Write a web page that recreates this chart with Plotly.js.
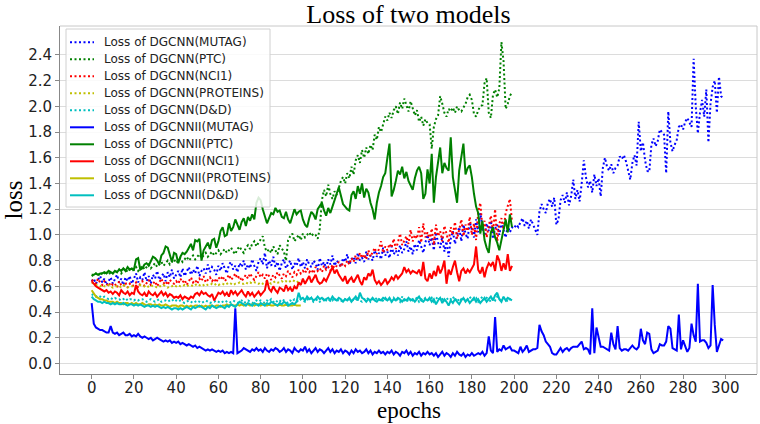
<!DOCTYPE html>
<html>
<head>
<meta charset="utf-8">
<script src="https://cdn.plot.ly/plotly-3.0.1.min.js"></script>
<style>html,body{margin:0;padding:0;background:#fff;}#chart{width:760px;height:424px;}</style>
</head>
<body>
<div id="chart"></div>
<script>
const title = "Loss of two models";
const xLabel = "epochs";
const yLabel = "loss";
const xTicks = [0,20,40,60,80,100,120,140,160,180,200,220,240,260,280,300];
const yTicks = [0.0,0.2,0.4,0.6,0.8,1.0,1.2,1.4,1.6,1.8,2.0,2.2,2.4];

const dgcnnMutag = [
0.64,0.66,0.62,0.65,0.68,0.63,0.66,0.61,0.64,0.67,0.62,0.65,0.69,0.63,0.66,0.61,0.67,0.64,0.68,0.62,
0.66,0.70,0.63,0.67,0.65,0.71,0.64,0.68,0.62,0.69,0.66,0.72,0.65,0.68,0.70,0.64,0.71,0.67,0.73,0.66,
0.69,0.72,0.67,0.74,0.68,0.71,0.75,0.69,0.73,0.70,0.76,0.68,0.72,0.74,0.70,0.77,0.71,0.75,0.73,0.69,
0.76,0.72,0.78,0.74,0.70,0.77,0.79,0.73,0.76,0.71,0.78,0.75,0.80,0.73,0.77,0.74,0.81,0.76,0.72,0.79,
0.82,0.77,0.86,0.74,0.80,0.76,0.83,0.75,0.79,0.72,0.78,0.81,0.74,0.77,0.80,0.73,0.78,0.76,0.82,0.75,
0.79,0.74,0.81,0.77,0.75,0.80,0.78,0.73,0.82,0.76,0.79,0.74,0.81,0.77,0.84,0.76,0.80,0.78,0.75,0.82,
0.79,0.85,0.77,0.81,0.83,0.78,0.86,0.80,0.82,0.79,0.87,0.81,0.84,0.80,0.88,0.83,0.86,0.81,0.90,0.84,
0.87,0.82,0.91,0.85,0.88,0.84,0.92,0.86,0.89,0.95,0.87,0.91,0.85,0.93,0.88,0.96,0.90,0.86,0.94,1.00,
0.92,0.98,0.88,1.02,0.94,0.90,0.99,0.87,0.95,0.83,0.97,1.03,0.93,0.99,1.06,0.95,1.08,1.01,0.97,1.10,
1.04,0.98,1.12,1.02,1.17,1.06,0.99,1.09,1.03,1.11,0.97,1.05,1.08,1.00,1.10,1.04,0.98,1.07,1.02,1.06,
1.05,1.08,1.06,1.10,1.13,1.07,1.11,1.05,1.12,1.08,1.04,1.00,1.18,1.24,1.20,1.17,1.25,1.28,1.22,1.29,
1.08,1.12,1.27,1.31,1.25,1.33,1.23,1.30,1.43,1.28,1.35,1.26,1.40,1.58,1.45,1.37,1.42,1.33,1.47,1.38,
1.44,1.30,1.52,1.60,1.53,1.50,1.55,1.48,1.52,1.54,1.61,1.59,1.62,1.57,1.50,1.43,1.56,1.62,1.54,1.88,
1.65,1.72,1.58,1.50,1.49,1.70,1.75,1.69,1.73,1.82,1.80,1.78,1.48,1.96,1.72,1.65,1.70,1.74,1.84,1.86,
1.82,1.88,1.91,1.87,1.84,2.37,2.00,1.79,1.95,2.05,1.92,2.13,1.72,2.02,2.15,2.20,1.95,2.23,2.08,2.06];

const dgcnnPtc = [
0.68,0.69,0.70,0.68,0.71,0.69,0.70,0.72,0.69,0.71,0.70,0.72,0.71,0.73,0.70,0.72,0.74,0.71,0.73,0.72,
0.73,0.75,0.72,0.74,0.76,0.73,0.75,0.77,0.74,0.76,0.78,0.75,0.77,0.79,0.76,0.78,0.80,0.77,0.79,0.81,
0.78,0.80,0.82,0.79,0.81,0.83,0.80,0.82,0.84,0.81,0.83,0.85,0.82,0.84,0.86,0.83,0.85,0.87,0.84,0.86,
0.88,0.85,0.87,0.89,0.86,0.88,0.90,0.87,0.85,0.89,0.91,0.88,0.86,0.90,0.92,0.89,0.93,0.95,0.91,0.94,
0.97,0.99,0.90,0.87,0.89,0.86,0.91,0.88,0.85,0.92,0.89,0.87,0.80,0.96,0.99,1.01,0.95,0.98,1.00,0.96,
1.01,0.98,1.00,1.02,0.99,1.01,1.00,0.97,1.05,1.27,1.35,1.30,1.39,1.32,1.28,1.34,1.31,1.36,1.42,1.45,
1.40,1.48,1.44,1.53,1.47,1.58,1.62,1.56,1.66,1.60,1.68,1.63,1.70,1.66,1.78,1.74,1.84,1.80,1.87,1.92,
1.89,1.95,1.91,1.97,2.00,1.94,2.03,1.98,2.06,2.01,1.96,2.04,1.99,1.93,1.97,1.88,1.92,1.85,1.90,1.87,
1.86,1.67,1.84,1.90,1.93,2.08,2.02,1.95,1.92,1.98,1.96,1.99,1.95,2.00,1.97,1.96,1.99,2.02,2.07,2.09,
2.05,1.94,1.92,1.97,2.00,2.01,2.18,2.22,1.95,1.91,2.09,2.13,2.07,2.14,2.50,2.35,1.98,2.02,2.08,2.11];

const dgcnnNci1 = [
0.65,0.64,0.62,0.66,0.63,0.61,0.64,0.62,0.60,0.63,0.61,0.62,0.59,0.64,0.61,0.60,0.63,0.59,0.62,0.60,
0.61,0.63,0.59,0.62,0.64,0.60,0.63,0.65,0.61,0.62,0.64,0.60,0.63,0.66,0.62,0.64,0.61,0.65,0.63,0.62,
0.64,0.62,0.66,0.63,0.65,0.61,0.64,0.67,0.63,0.65,0.62,0.66,0.64,0.68,0.63,0.65,0.67,0.64,0.66,0.63,
0.67,0.65,0.68,0.64,0.66,0.69,0.65,0.67,0.70,0.66,0.68,0.64,0.67,0.69,0.66,0.70,0.67,0.65,0.68,0.71,
0.67,0.69,0.66,0.70,0.68,0.65,0.69,0.67,0.71,0.68,0.66,0.70,0.68,0.72,0.69,0.67,0.71,0.69,0.73,0.70,
0.72,0.70,0.74,0.71,0.73,0.70,0.75,0.72,0.74,0.71,0.76,0.73,0.75,0.72,0.77,0.74,0.76,0.79,0.75,0.78,
0.76,0.80,0.77,0.82,0.79,0.84,0.80,0.86,0.82,0.85,0.81,0.88,0.83,0.87,0.90,0.85,0.89,0.95,0.86,0.91,
0.88,0.93,0.90,0.97,0.89,0.94,1.01,0.92,0.96,0.99,0.93,1.04,0.95,1.00,0.97,1.06,0.94,1.09,0.98,1.02,
0.96,1.05,0.92,1.08,0.99,1.03,0.95,1.07,1.01,0.94,1.06,1.00,1.10,0.97,1.04,1.12,0.99,1.08,1.03,1.14,
1.00,1.09,0.96,1.18,1.25,1.05,1.11,0.98,1.07,1.15,1.02,1.20,0.95,1.09,1.13,1.04,1.17,1.22,1.28,1.10];

const dgcnnProteins = [
0.63,0.62,0.61,0.61,0.60,0.61,0.60,0.60,0.61,0.60,0.59,0.60,0.60,0.59,0.60,0.61,0.60,0.59,0.60,0.60,
0.60,0.59,0.60,0.61,0.60,0.60,0.59,0.60,0.61,0.60,0.60,0.59,0.60,0.60,0.61,0.60,0.59,0.60,0.60,0.61,
0.60,0.61,0.60,0.60,0.61,0.60,0.61,0.61,0.60,0.61,0.62,0.61,0.60,0.61,0.62,0.61,0.61,0.62,0.61,0.62,
0.61,0.62,0.62,0.61,0.62,0.63,0.62,0.61,0.62,0.62,0.63,0.62,0.62,0.63,0.62,0.63,0.62,0.63,0.63,0.62,
0.63,0.62,0.63,0.64,0.63,0.62,0.63,0.64,0.63,0.63,0.64,0.63,0.64,0.63,0.64,0.65,0.64,0.63,0.64,0.65];

const dgcnnDD = [
0.54,0.53,0.52,0.53,0.52,0.51,0.52,0.51,0.50,0.51,0.50,0.51,0.50,0.50,0.49,0.50,0.51,0.49,0.50,0.50,
0.49,0.50,0.49,0.50,0.50,0.49,0.48,0.49,0.50,0.49,0.48,0.49,0.50,0.48,0.49,0.49,0.48,0.49,0.50,0.48,
0.49,0.48,0.49,0.48,0.47,0.48,0.49,0.48,0.47,0.48,0.49,0.48,0.47,0.48,0.49,0.48,0.47,0.48,0.48,0.49,
0.48,0.47,0.48,0.49,0.48,0.47,0.48,0.49,0.48,0.47,0.48,0.49,0.47,0.48,0.49,0.48,0.47,0.48,0.49,0.48,
0.49,0.48,0.47,0.49,0.48,0.50,0.48,0.47,0.49,0.48,0.50,0.49,0.48,0.47,0.49,0.48,0.50,0.49,0.48,0.50,
0.49,0.48,0.50,0.49,0.51,0.48,0.49,0.50,0.48,0.49,0.51,0.49,0.48,0.50,0.49,0.51,0.48,0.50,0.49,0.48,
0.50,0.49,0.51,0.48,0.50,0.49,0.52,0.49,0.48,0.50,0.49,0.51,0.48,0.50,0.49,0.51,0.50,0.48,0.49,0.51,
0.49,0.50,0.48,0.51,0.49,0.50,0.48,0.52,0.49,0.50,0.48,0.51,0.49,0.50,0.51,0.48,0.50,0.49,0.51,0.50,
0.49,0.51,0.48,0.50,0.52,0.49,0.50,0.48,0.51,0.49,0.50,0.52,0.49,0.51,0.48,0.50,0.49,0.51,0.50,0.52,
0.49,0.50,0.51,0.48,0.50,0.52,0.49,0.51,0.50,0.48,0.51,0.49,0.52,0.50,0.49,0.51,0.50,0.48,0.50,0.49];

const dgcnn2Mutag = [
0.47,0.31,0.28,0.27,0.26,0.26,0.25,0.24,0.24,0.29,0.24,0.23,0.24,0.22,0.23,0.24,0.22,0.22,0.23,0.21,
0.22,0.21,0.23,0.21,0.20,0.21,0.20,0.19,0.20,0.18,0.19,0.20,0.19,0.18,0.17,0.18,0.17,0.18,0.16,0.17,
0.16,0.17,0.15,0.16,0.15,0.14,0.15,0.14,0.13,0.14,0.12,0.13,0.12,0.11,0.10,0.11,0.10,0.11,0.10,0.09,
0.10,0.09,0.10,0.08,0.09,0.08,0.09,0.08,0.43,0.08,0.09,0.10,0.12,0.11,0.10,0.09,0.11,0.10,0.12,0.10,
0.11,0.09,0.12,0.10,0.09,0.11,0.10,0.12,0.11,0.09,0.10,0.12,0.09,0.11,0.10,0.08,0.12,0.10,0.09,0.11,
0.10,0.13,0.09,0.11,0.08,0.10,0.12,0.09,0.11,0.10,0.08,0.10,0.12,0.09,0.11,0.08,0.10,0.09,0.11,0.08,
0.10,0.09,0.07,0.10,0.08,0.11,0.09,0.10,0.08,0.09,0.11,0.08,0.10,0.07,0.09,0.08,0.10,0.08,0.09,0.07,
0.09,0.08,0.10,0.07,0.09,0.08,0.06,0.09,0.08,0.10,0.07,0.09,0.06,0.08,0.07,0.09,0.06,0.08,0.07,0.09,
0.07,0.08,0.06,0.08,0.05,0.07,0.09,0.06,0.08,0.07,0.05,0.08,0.06,0.09,0.07,0.06,0.08,0.05,0.07,0.06,
0.08,0.06,0.07,0.08,0.07,0.09,0.06,0.08,0.21,0.10,0.08,0.36,0.09,0.11,0.10,0.14,0.11,0.12,0.13,0.10,
0.10,0.09,0.08,0.13,0.09,0.11,0.14,0.09,0.10,0.11,0.11,0.12,0.30,0.25,0.22,0.17,0.15,0.13,0.08,0.07,
0.07,0.10,0.12,0.09,0.11,0.12,0.10,0.12,0.13,0.13,0.13,0.15,0.17,0.11,0.12,0.11,0.07,0.43,0.08,0.28,
0.20,0.13,0.13,0.12,0.11,0.10,0.24,0.15,0.11,0.29,0.12,0.10,0.11,0.11,0.10,0.12,0.14,0.12,0.11,0.13,
0.27,0.18,0.15,0.24,0.23,0.11,0.08,0.09,0.10,0.15,0.14,0.14,0.17,0.29,0.27,0.12,0.11,0.10,0.38,0.11,
0.18,0.13,0.09,0.12,0.31,0.22,0.17,0.62,0.17,0.18,0.18,0.16,0.12,0.14,0.61,0.30,0.09,0.14,0.19,0.18];

const dgcnn2Ptc = [
0.69,0.69,0.70,0.69,0.70,0.70,0.71,0.70,0.72,0.71,0.70,0.72,0.71,0.73,0.72,0.74,0.72,0.75,0.73,0.74,
0.73,0.81,0.82,0.73,0.74,0.77,0.78,0.76,0.79,0.83,0.82,0.80,0.77,0.84,0.86,0.91,0.90,0.84,0.79,0.86,
0.85,0.78,0.83,0.86,0.85,0.87,0.90,0.93,0.88,0.96,0.95,0.97,0.80,0.88,0.91,0.94,0.89,0.96,0.97,0.90,
0.95,1.03,1.06,0.99,1.00,1.09,1.03,1.06,1.12,1.08,1.04,1.10,1.13,1.07,1.14,1.11,1.16,1.12,1.25,1.29,
1.27,1.20,1.15,1.09,1.13,1.17,1.16,1.21,1.18,1.19,1.14,1.13,1.18,1.12,1.09,1.14,1.20,1.16,1.18,1.19,
1.12,1.08,1.06,1.13,1.18,1.16,1.12,1.20,1.23,1.25,1.19,1.15,1.21,1.17,1.22,1.28,1.32,1.37,1.30,1.24,
1.22,1.20,1.19,1.31,1.34,1.28,1.38,1.32,1.40,1.29,1.36,1.33,1.25,1.20,1.12,1.25,1.33,1.38,1.45,1.48,
1.60,1.71,1.30,1.35,1.42,1.50,1.47,1.53,1.44,1.49,1.42,1.38,1.35,1.44,1.50,1.53,1.48,1.28,1.32,1.51,
1.40,1.63,1.25,1.45,1.55,1.68,1.48,1.56,1.52,1.50,1.76,1.45,1.35,1.25,1.50,1.62,1.71,1.47,1.52,1.54,
1.45,1.32,1.22,1.17,1.01,1.11,0.96,0.90,0.86,1.02,1.06,0.98,0.94,0.88,0.97,1.06,1.12,1.02,1.16,1.06];

const dgcnn2Nci1 = [
0.64,0.62,0.60,0.59,0.58,0.57,0.56,0.57,0.55,0.56,0.54,0.56,0.55,0.53,0.57,0.55,0.54,0.56,0.53,0.55,
0.54,0.61,0.56,0.54,0.53,0.55,0.52,0.56,0.54,0.53,0.55,0.52,0.54,0.56,0.53,0.55,0.52,0.54,0.53,0.51,
0.52,0.51,0.53,0.50,0.52,0.51,0.50,0.52,0.51,0.54,0.55,0.53,0.56,0.54,0.55,0.53,0.52,0.54,0.49,0.52,
0.55,0.54,0.56,0.53,0.55,0.52,0.57,0.54,0.56,0.53,0.55,0.57,0.54,0.52,0.56,0.53,0.55,0.52,0.54,0.56,
0.53,0.55,0.57,0.65,0.58,0.56,0.60,0.57,0.55,0.59,0.58,0.56,0.61,0.57,0.59,0.56,0.60,0.58,0.63,0.61,
0.66,0.62,0.65,0.68,0.63,0.66,0.69,0.64,0.62,0.63,0.66,0.64,0.68,0.71,0.75,0.70,0.73,0.69,0.66,0.64,
0.68,0.62,0.65,0.67,0.63,0.66,0.69,0.64,0.61,0.67,0.65,0.70,0.68,0.73,0.65,0.62,0.64,0.61,0.63,0.66,
0.62,0.64,0.67,0.65,0.69,0.66,0.68,0.70,0.75,0.71,0.73,0.70,0.72,0.71,0.70,0.73,0.68,0.79,0.66,0.64,
0.70,0.66,0.72,0.68,0.76,0.70,0.74,0.80,0.62,0.73,0.69,0.75,0.80,0.71,0.64,0.72,0.74,0.70,0.73,0.71,
0.74,0.77,0.91,0.73,0.70,0.75,0.67,0.74,0.78,0.76,0.79,0.72,0.84,0.80,0.72,0.78,0.73,0.85,0.72,0.76];

const dgcnn2Proteins = [
0.57,0.54,0.52,0.51,0.50,0.50,0.49,0.49,0.48,0.48,0.48,0.47,0.48,0.47,0.47,0.46,0.47,0.47,0.46,0.47,
0.46,0.47,0.46,0.46,0.47,0.46,0.45,0.46,0.46,0.45,0.46,0.45,0.46,0.45,0.45,0.46,0.45,0.44,0.45,0.45,
0.45,0.44,0.45,0.45,0.44,0.45,0.44,0.45,0.44,0.45,0.45,0.44,0.45,0.44,0.45,0.44,0.45,0.45,0.44,0.45,
0.45,0.44,0.45,0.45,0.46,0.45,0.46,0.45,0.45,0.46,0.45,0.46,0.45,0.46,0.46,0.45,0.46,0.45,0.46,0.46,
0.45,0.46,0.46,0.45,0.46,0.45,0.45,0.46,0.45,0.46,0.45,0.45,0.46,0.45,0.45,0.45,0.46,0.45,0.45,0.45];

const dgcnn2DD = [
0.52,0.50,0.49,0.48,0.48,0.47,0.48,0.47,0.47,0.46,0.47,0.46,0.47,0.46,0.46,0.47,0.46,0.45,0.46,0.46,
0.45,0.46,0.45,0.46,0.45,0.44,0.45,0.45,0.44,0.45,0.44,0.45,0.44,0.43,0.44,0.43,0.44,0.43,0.42,0.43,
0.43,0.42,0.43,0.42,0.43,0.44,0.43,0.42,0.44,0.43,0.44,0.45,0.44,0.43,0.42,0.44,0.43,0.45,0.44,0.43,
0.44,0.45,0.44,0.43,0.45,0.44,0.46,0.45,0.44,0.46,0.48,0.47,0.46,0.45,0.47,0.46,0.45,0.47,0.46,0.45,
0.47,0.46,0.45,0.47,0.46,0.48,0.47,0.46,0.45,0.47,0.46,0.48,0.47,0.45,0.46,0.47,0.46,0.48,0.55,0.50,
0.51,0.49,0.52,0.50,0.51,0.49,0.50,0.52,0.50,0.51,0.49,0.50,0.51,0.49,0.52,0.50,0.49,0.51,0.50,0.48,
0.50,0.49,0.51,0.48,0.50,0.52,0.49,0.55,0.51,0.50,0.48,0.50,0.49,0.51,0.49,0.48,0.50,0.49,0.51,0.50,
0.49,0.51,0.48,0.50,0.49,0.51,0.50,0.48,0.50,0.49,0.51,0.49,0.50,0.48,0.50,0.52,0.49,0.48,0.50,0.49,
0.51,0.48,0.50,0.46,0.49,0.51,0.47,0.50,0.48,0.45,0.49,0.47,0.50,0.48,0.46,0.49,0.51,0.48,0.50,0.47,
0.49,0.51,0.48,0.50,0.47,0.49,0.51,0.48,0.50,0.52,0.49,0.53,0.55,0.50,0.48,0.52,0.49,0.51,0.50,0.49];

const seriesNames = [
"Loss of DGCNN(MUTAG)","Loss of DGCNN(PTC)","Loss of DGCNN(NCI1)","Loss of DGCNN(PROTEINS)","Loss of DGCNN(D&D)",
"Loss of DGCNNII(MUTAG)","Loss of DGCNNII(PTC)","Loss of DGCNNII(NCI1)","Loss of DGCNNII(PROTEINS)","Loss of DGCNNII(D&D)"];
const seriesValues = [dgcnnMutag,dgcnnPtc,dgcnnNci1,dgcnnProteins,dgcnnDD,dgcnn2Mutag,dgcnn2Ptc,dgcnn2Nci1,dgcnn2Proteins,dgcnn2DD];
const colors = ["#0000ff","#008000","#ff0000","#bfbf00","#00bfbf"];

const W = 760, H = 424;
const M = {l: 60, r: 3, t: 26, b: 50};
const plotW = W - M.l - M.r, plotH = H - M.t - M.b;
const px2x = p => (p - M.l) / plotW;
const px2y = p => (H - M.b - p) / plotH;
const dashOf = k => (k < 5 ? "2px,2.5px" : "solid");

const traces = seriesValues.map((vals, k) => ({
  type: "scatter",
  mode: "lines",
  name: seriesNames[k],
  x: vals.map((_, i) => i),
  y: vals,
  line: {color: colors[k % 5], width: 2, dash: dashOf(k)},
  showlegend: false,
  hoverinfo: "skip"
}));

// hand-built legend box (matplotlib-like spacing)
const legBox = {x0: 66, x1: 270, y0: 29, y1: 207};
const shapes = [
  {type: "line", xref: "paper", yref: "paper", x0: 0, x1: 1, y0: 1, y1: 1, line: {color: "#c8c8c8", width: 1}},
  {type: "line", xref: "paper", yref: "paper", x0: 1, x1: 1, y0: 0, y1: 1, line: {color: "#c8c8c8", width: 1}},
  {type: "rect", xref: "paper", yref: "paper", layer: "above",
   x0: px2x(legBox.x0), x1: px2x(legBox.x1), y0: px2y(legBox.y1), y1: px2y(legBox.y0),
   fillcolor: "rgba(255,255,255,0.85)", line: {color: "#d0d0d0", width: 1}}
];
const annotations = [];
seriesNames.forEach((name, k) => {
  const yy = 42.3 + 17 * k;
  shapes.push({type: "line", xref: "paper", yref: "paper", layer: "above",
    x0: px2x(70), x1: px2x(94), y0: px2y(yy), y1: px2y(yy),
    line: {color: colors[k % 5], width: 2, dash: dashOf(k)}});
  annotations.push({xref: "paper", yref: "paper", x: px2x(102), y: px2y(yy),
    xanchor: "left", yanchor: "middle", showarrow: false, text: name,
    font: {family: "DejaVu Sans", size: 12, color: "#222"}});
});
// x-axis title placed just below the tick labels
annotations.push({xref: "paper", yref: "paper", x: 0.5, y: px2y(424), xanchor: "center", yanchor: "bottom",
  showarrow: false, borderpad: 0, text: xLabel, font: {family: "Liberation Serif", size: 23, color: "#000"}});

const layout = {
  width: W, height: H, autosize: false,
  paper_bgcolor: "#fff", plot_bgcolor: "#fff",
  margin: {l: M.l, r: M.r, t: M.t, b: M.b, pad: 0},
  font: {family: "DejaVu Sans", color: "#222"},
  title: {text: title, font: {family: "Liberation Serif", size: 26, color: "#000"},
          x: (M.l + W - M.r) / 2 / W, xanchor: "center", y: 1 - 14 / H, yanchor: "middle", yref: "container"},
  showlegend: false,
  xaxis: {range: [-15, 315], tickvals: xTicks, ticktext: xTicks.map(String),
          showgrid: false, zeroline: false, showline: true, linecolor: "#888", linewidth: 1,
          ticks: "outside", ticklen: 4, tickcolor: "#888", ticklabelstandoff: -4,
          tickfont: {family: "DejaVu Sans", size: 15, color: "#222"}},
  yaxis: {range: [-0.082, 2.625], tickvals: yTicks, ticktext: yTicks.map(v => v.toFixed(1)),
          showgrid: true, gridcolor: "#dcdcdc", gridwidth: 1, zeroline: false,
          showline: true, linecolor: "#888", linewidth: 1,
          ticks: "outside", ticklen: 4, tickcolor: "#888",
          tickfont: {family: "DejaVu Sans", size: 15, color: "#222"},
          title: {text: yLabel, font: {family: "Liberation Serif", size: 25, color: "#000"}, standoff: 6}},
  shapes: shapes,
  annotations: annotations
};

Plotly.newPlot("chart", traces, layout, {displayModeBar: false, staticPlot: true});
</script>
</body>
</html>
